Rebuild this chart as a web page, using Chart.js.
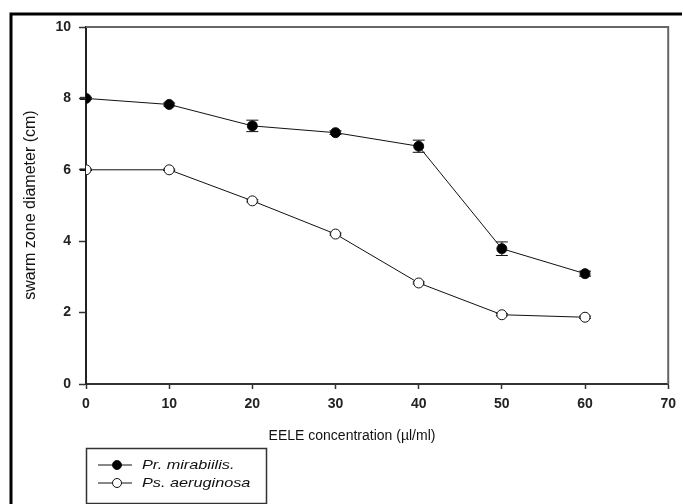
<!DOCTYPE html>
<html>
<head>
<meta charset="utf-8">
<title>Swarm zone diameter</title>
<script src="https://cdn.jsdelivr.net/npm/chart.js@4.4.1/dist/chart.umd.min.js"></script>
<style>
  html, body { margin: 0; padding: 0; background: #fff; }
  #wrap { position: relative; width: 683px; height: 504px; overflow: hidden; }
</style>
</head>
<body>
<div id="wrap"><canvas id="chart" width="683" height="504"></canvas></div>
<script>
const concentrations = [0, 10, 20, 30, 40, 50, 60];
const mirabilisMean = [8.0, 7.83, 7.23, 7.04, 6.66, 3.79, 3.09];
const mirabilisErr = [0.03, 0.04, 0.16, 0.05, 0.17, 0.19, 0.07];
const aeruginosaMean = [6.0, 6.0, 5.13, 4.2, 2.83, 1.94, 1.87];
const aeruginosaErr = [0.02, 0.02, 0.03, 0.03, 0.03, 0.03, 0.03];
const seriesNames = ['Pr. mirabiilis.', 'Ps. aeruginosa'];
const xTitle = 'EELE concentration (\u00b5l/ml)';
const yTitle = 'swarm zone diameter (cm)';

const FONT = '"Liberation Sans", Arial, sans-serif';
const INK = '#111';

const toPoints = (ys) => concentrations.map((x, i) => ({ x, y: ys[i] }));

// error bars, legend, titles and frame
const decor = {
  id: 'decor',
  beforeDatasetsDraw(chart) {
    const { ctx } = chart;
    const yScale = chart.scales.y;
    ctx.save();
    ctx.strokeStyle = INK;
    ctx.lineWidth = 1;
    chart.data.datasets.forEach((ds, i) => {
      const meta = chart.getDatasetMeta(i);
      ds.errors.forEach((e, j) => {
        const pt = meta.data[j];
        const top = yScale.getPixelForValue(ds.data[j].y + e);
        const bot = yScale.getPixelForValue(ds.data[j].y - e);
        ctx.beginPath();
        ctx.moveTo(pt.x, top); ctx.lineTo(pt.x, bot);
        ctx.moveTo(pt.x - 6, top); ctx.lineTo(pt.x + 6, top);
        ctx.moveTo(pt.x - 6, bot); ctx.lineTo(pt.x + 6, bot);
        ctx.stroke();
      });
    });
    ctx.restore();
  },
  afterDraw(chart) {
    const { ctx, chartArea: a } = chart;
    ctx.save();

    // plot box top / right
    ctx.strokeStyle = '#666';
    ctx.lineWidth = 2;
    ctx.beginPath();
    ctx.moveTo(a.left, a.top); ctx.lineTo(a.right, a.top); ctx.lineTo(a.right, a.bottom);
    ctx.stroke();

    // outer frame
    ctx.strokeStyle = '#000';
    ctx.lineWidth = 3;
    ctx.beginPath();
    ctx.moveTo(11, 510); ctx.lineTo(11, 14); ctx.lineTo(682, 14);
    ctx.stroke();

    // axis titles
    ctx.fillStyle = INK;
    ctx.textAlign = 'center';
    ctx.textBaseline = 'middle';
    ctx.font = '14px ' + FONT;
    ctx.fillText(xTitle, 352, 436);
    ctx.save();
    ctx.translate(31, 205);
    ctx.rotate(-Math.PI / 2);
    ctx.font = '16px ' + FONT;
    ctx.fillText(yTitle, 0, 0);
    ctx.restore();

    // legend
    ctx.strokeStyle = '#333';
    ctx.lineWidth = 1.5;
    ctx.strokeRect(86.5, 448.5, 180, 55);
    const rows = [465, 483];
    chart.data.datasets.forEach((ds, i) => {
      const y = rows[i];
      ctx.strokeStyle = INK;
      ctx.lineWidth = 1;
      ctx.beginPath();
      ctx.moveTo(98, y); ctx.lineTo(132, y);
      ctx.stroke();
      ctx.beginPath();
      ctx.arc(117, y, 4.5, 0, Math.PI * 2);
      ctx.fillStyle = ds.pointBackgroundColor;
      ctx.fill();
      ctx.stroke();
      ctx.save();
      ctx.translate(142, y);
      ctx.scale(1.25, 1);
      ctx.fillStyle = INK;
      ctx.textAlign = 'left';
      ctx.font = 'italic 13px ' + FONT;
      ctx.fillText(seriesNames[i], 0, 0);
      ctx.restore();
    });
    ctx.restore();
  },
};

new Chart(document.getElementById('chart'), {
  type: 'line',
  data: {
    datasets: [
      {
        label: seriesNames[0],
        data: toPoints(mirabilisMean),
        errors: mirabilisErr,
        borderColor: INK,
        borderWidth: 1,
        pointRadius: 5,
        pointBackgroundColor: '#000',
        pointBorderColor: INK,
        pointBorderWidth: 1,
        tension: 0,
      },
      {
        label: seriesNames[1],
        data: toPoints(aeruginosaMean),
        errors: aeruginosaErr,
        borderColor: INK,
        borderWidth: 1,
        pointRadius: 5,
        pointBackgroundColor: '#fff',
        pointBorderColor: INK,
        pointBorderWidth: 1,
        tension: 0,
      },
    ],
  },
  options: {
    responsive: false,
    animation: false,
    layout: { padding: { top: 27, right: 13, left: 0, bottom: 0 } },
    plugins: { legend: { display: false }, tooltip: { enabled: false } },
    scales: {
      x: {
        type: 'linear',
        min: 0,
        max: 70,
        afterFit: (s) => { s.height = 120; },
        ticks: { stepSize: 10, color: '#222', padding: 7, font: { family: FONT, size: 14, weight: 'bold' } },
        grid: { drawOnChartArea: false, tickLength: 5, tickColor: '#333', tickWidth: 1.5 },
        border: { display: true, color: '#333', width: 2 },
      },
      y: {
        min: 0,
        max: 10,
        afterFit: (s) => { s.width = 86; },
        ticks: { stepSize: 2, color: '#222', padding: 8, font: { family: FONT, size: 14, weight: 'bold' } },
        grid: { drawOnChartArea: false, tickLength: 7, tickColor: '#333', tickWidth: 1.5 },
        border: { display: true, color: '#222', width: 2 },
      },
    },
  },
  plugins: [decor],
});
</script>
</body>
</html>
